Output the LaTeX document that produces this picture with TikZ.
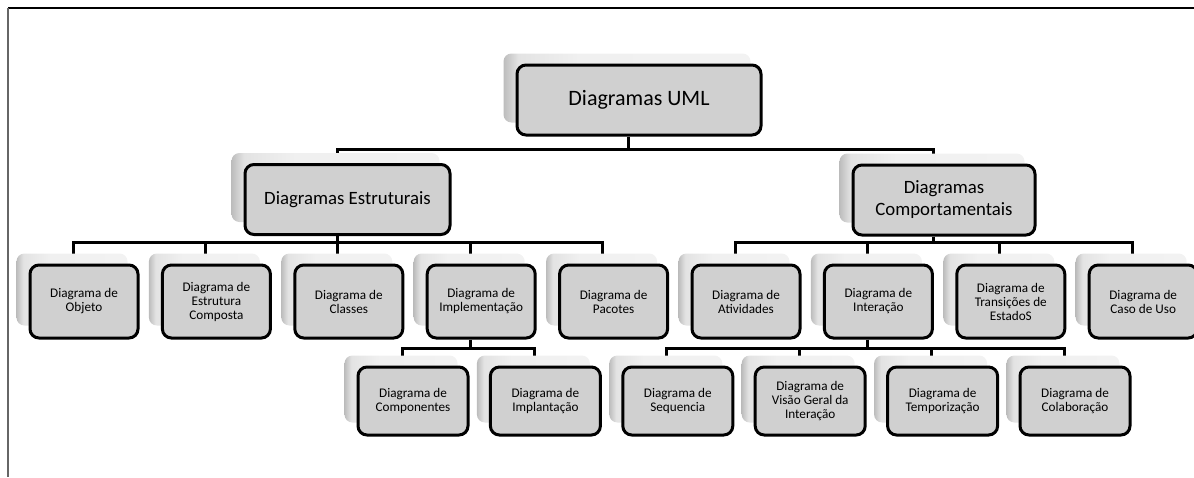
\documentclass[tikz,border=0pt]{standalone}
\usepackage{fontspec}
\setmainfont{Carlito}
\usetikzlibrary{calc}
\pgfdeclarelayer{wires}
\pgfdeclarelayer{shades}
\pgfsetlayers{wires,shades,main}
% soft grey backdrop behind every box, a little darker along its left edge
\pgfdeclarehorizontalshading{boxshadow}{100bp}{color(0bp)=(black!26); color(25bp)=(black!26); color(28bp)=(black!11); color(40bp)=(black!6); color(75bp)=(black!5); color(100bp)=(black!5)}
\definecolor{boxfill}{RGB}{208,208,208}
\tikzset{
  box/.style={draw=black, line width=1.5pt, rounded corners=4.5pt, fill=boxfill,
              align=center, inner sep=0pt, text=black},
  rootbox/.style={box, minimum width=122pt, minimum height=35pt,
                  font=\fontsize{11}{13}\selectfont},
  midbox/.style={box, minimum height=35pt, font=\fontsize{9.4}{11}\selectfont},
  leafbox/.style={box, minimum width=54pt, minimum height=36.5pt,
                  font=\fontsize{6.6}{7}\selectfont},
  subbox/.style={box, minimum width=55pt, minimum height=34pt,
                 font=\fontsize{6.6}{7}\selectfont},
  wire/.style={draw=black, line width=1.5pt},
}
\newcommand\boxshade[1]{%
  \begin{pgfonlayer}{shades}
    \shade[shading=boxshadow, rounded corners=4pt]
      ($(#1.north west)+(-12,-10)$) rectangle ($(#1.south east)+(-12,-14)$);
  \end{pgfonlayer}}
\begin{document}
\begin{tikzpicture}[x=0.5pt, y=-0.5pt]
\useasboundingbox (0,0) rectangle (1194,477);
% page frame
\draw[black, line width=1pt] (8,8) -- (1194,8);
\draw[black!60, line width=1pt] (8,8) -- (8,477);

% boxes
\node[rootbox] (root) at (639,100) {Diagramas UML};
\node[midbox, minimum width=102.5pt] (estr) at (347.5,199.5) {Diagramas Estruturais};
\node[midbox, minimum width=91pt] (comp) at (944,200) {Diagramas\\Comportamentais};

\node[leafbox] (objeto)  at (84,301.5)   {Diagrama de\\Objeto};
\node[leafbox] (estrut)  at (216.4,301.5) {Diagrama de\\Estrutura\\Composta};
\node[leafbox] (classes) at (348.8,301.5) {Diagrama de\\Classes};
\node[leafbox] (impl)    at (481.2,301.5) {Diagrama de\\Implementação};
\node[leafbox] (pacotes) at (613.6,301.5) {Diagrama de\\Pacotes};
\node[leafbox] (ativ)    at (746,301.5)   {Diagrama de\\Atividades};
\node[leafbox] (inter)   at (878.4,301.5) {Diagrama de\\Interação};
\node[leafbox] (trans)   at (1010.8,301.5) {Diagrama de\\Transições de\\EstadoS};
\node[leafbox] (caso)    at (1143.2,301.5) {Diagrama de\\Caso de Uso};

\node[subbox] (compo)   at (413,401)    {Diagrama de\\Componentes};
\node[subbox] (implant) at (545.4,401)  {Diagrama de\\Implantação};
\node[subbox] (seq)     at (677.8,401)  {Diagrama de\\Sequencia};
\node[subbox] (visao)   at (810.2,401)  {Diagrama de\\Visão Geral da\\Interação};
\node[subbox] (temp)    at (942.6,401)  {Diagrama de\\Temporização};
\node[subbox] (colab)   at (1075,401)   {Diagrama de\\Colaboração};

\foreach \n in {root,estr,comp,objeto,estrut,classes,impl,pacotes,ativ,inter,trans,caso,
                compo,implant,seq,visao,temp,colab} {\boxshade{\n}}

% connectors
\begin{pgfonlayer}{wires}
  \draw[wire] ($(root.south)+(-11,0)$) -- ++(0,13) coordinate (rb);
  \draw[wire] (rb) -| ($(estr.north)+(-10,0)$);
  \draw[wire] (rb) -| ($(comp.north)+(-11,0)$);

  \draw[wire] ($(estr.south)+(-10,0)$) -- ++(0,6) coordinate (lb);
  \foreach \n in {objeto,estrut,classes,impl,pacotes}
    \draw[wire] (lb) -| ($(\n.north)+(-11,0)$);

  \draw[wire] ($(comp.south)+(-11,0)$) -- ++(0,6) coordinate (cb);
  \foreach \n in {ativ,inter,trans,caso}
    \draw[wire] (cb) -| ($(\n.north)+(-11,0)$);

  \draw[wire] ($(impl.south)+(-11,0)$) -- ++(0,9) coordinate (ib);
  \foreach \n in {compo,implant}
    \draw[wire] (ib) -| ($(\n.north)+(-11,0)$);

  \draw[wire] ($(inter.south)+(-11,0)$) -- ++(0,9) coordinate (nb);
  \foreach \n in {seq,visao,temp,colab}
    \draw[wire] (nb) -| ($(\n.north)+(-11,0)$);
\end{pgfonlayer}
\end{tikzpicture}
\end{document}
